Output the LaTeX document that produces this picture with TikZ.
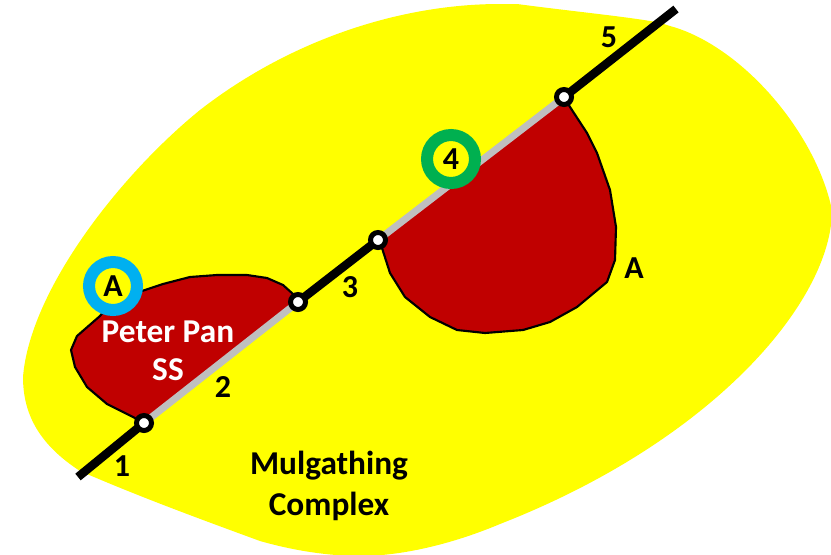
\documentclass[tikz,border=0pt]{standalone}
\usepackage{fontspec}
\setmainfont{Carlito}
\definecolor{wyellow}{HTML}{FFFF00}
\definecolor{wred}{HTML}{C00000}
\definecolor{wgray}{HTML}{BFBFBF}
\definecolor{wblue}{HTML}{00B0F0}
\definecolor{wgreen}{HTML}{00B050}
\tikzset{
  px/.style={x=0.75pt,y=-0.75pt},
  unit/.style={fill=wred,draw=black,line width=1.6pt,line join=round},
  fault/.style={line width=6.4pt,draw=black},
  covered/.style={line width=5.25pt,draw=wgray},
  pin/.style={circle,draw=black,fill=white,line width=3.75pt,minimum size=11.25pt,inner sep=0pt},
  ringed/.style={circle,fill=wyellow,line width=9pt,minimum size=36pt,inner sep=0pt,font=\bfseries\fontsize{24}{26}\selectfont},
  lab/.style={font=\bfseries\fontsize{24}{28}\selectfont,inner sep=0pt,align=center},
  whitelab/.style={font=\bfseries\fontsize{25}{28.5}\selectfont,inner sep=0pt,align=center,text=white},
  biglab/.style={font=\bfseries\fontsize{25}{31}\selectfont,inner sep=0pt,align=center},
}
\begin{document}
\begin{tikzpicture}[px]
\useasboundingbox (0,0) rectangle (831,554);
\clip (0,0) rectangle (831,554);
\fill[white] (0,0) rectangle (831,554);
\fill[wyellow] (500,4) -- (517,4) .. controls (570,11) and (620,16) .. (650,21)
  .. controls (658,22) and (664,24) .. (670,26)
  .. controls (740,45) and (815,130) .. (832,210)
  .. controls (832,300) and (715,440) .. (500,524)
  .. controls (450,545) and (400,556) .. (360,556)
  .. controls (330,556) and (295,551) .. (260,541)
  .. controls (200,519) and (140,497) .. (80,471)
  .. controls (40,445) and (23,415) .. (23,377)
  .. controls (30,290) and (120,175) .. (200,110)
  .. controls (290,40) and (400,4) .. (500,4) -- cycle;
\coordinate (e1) at (78,477);
\coordinate (e2) at (676,9);
\path[unit] (144,423) -- (133,417) -- (107,404) -- (87,387) -- (75,367) -- (71,350) -- (77,336)
  -- (100,316) -- (113,300) -- (142,291) -- (163,284) -- (190,277) -- (217,275) -- (247,275)
  -- (267,278) -- (283,285) -- (293,294) -- (298,302) -- cycle;
\path[unit] (378,240) -- (382,248) -- (390,273) -- (405,297) -- (430,317) -- (457,330) -- (485,333)
  -- (523,330) -- (550,322) -- (577,307) -- (607,282) -- (615,260) -- (616,227) -- (610,190)
  -- (597,153) -- (587,133) -- (570,107) -- (564,97) -- cycle;
\coordinate (q1) at (144,423);
\coordinate (q2) at (298,302);
\coordinate (q3) at (378,240);
\coordinate (q4) at (564,97);
\draw[covered] (q1) -- (q2);
\draw[covered] (q3) -- (q4);
\draw[fault] (e1) -- (q1);
\draw[fault] (q2) -- (q3);
\draw[fault] (q4) -- (e2);
\node[pin] (p1) at (q1) {};
\node[pin] (p2) at (q2) {};
\node[pin] (p3) at (q3) {};
\node[pin] (p4) at (q4) {};
\node[ringed,draw=wblue] (ca) at (113,286) {A};
\node[ringed,draw=wgreen] (c4) at (451,159) {4};
\node[whitelab] (pp) at (168,351) {Peter Pan\\SS};
\node[biglab] (mc) at (329,486) {Mulgathing\\Complex};
\node[lab] (n1) at (122,466) {1};
\node[lab] (n2) at (223,387) {2};
\node[lab] (n3) at (350,287) {3};
\node[lab] (n5) at (609,37) {5};
\node[lab] (na) at (634,268) {A};
\end{tikzpicture}
\end{document}
